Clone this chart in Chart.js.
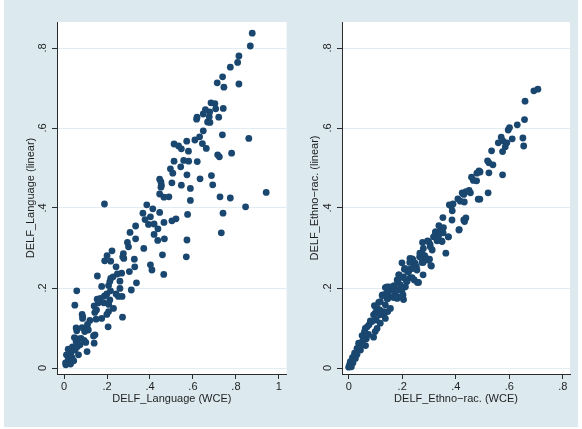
<!DOCTYPE html>
<html>
<head>
<meta charset="utf-8">
<script src="https://cdn.jsdelivr.net/npm/chart.js@4.4.1/dist/chart.umd.min.js"></script>
<style>
  html, body { margin: 0; padding: 0; background: #fff; }
  #wrap { position: relative; width: 582px; height: 429px; overflow: hidden; }
  #bg { position: absolute; left: 4px; top: 0; width: 574px; height: 427px; background: #dceaf0; }
  canvas { position: absolute; top: 0; }
  #langChart { left: 0; }
  #ethChart { left: 290px; }
</style>
</head>
<body>
<div id="wrap">
  <div id="bg"></div>
  <canvas id="langChart" width="290" height="429"></canvas>
  <canvas id="ethChart" width="292" height="429"></canvas>
</div>
<script>
// ----- data -----
const yTicks = [0, 0.2, 0.4, 0.6, 0.8];
const langTicksX = [0, 0.2, 0.4, 0.6, 0.8, 1];
const ethTicksX = [0, 0.2, 0.4, 0.6, 0.8];

const langTitleX = "DELF_Language (WCE)";
const langTitleY = "DELF_Language (linear)";
const ethTitleX = "DELF_Ethno\u2212rac. (WCE)";
const ethTitleY = "DELF_Ethno\u2212rac. (linear)";

// [WCE, linear]
const langPoints = [
  [0.876,0.837],[0.867,0.805],[0.814,0.78],[0.808,0.764],[0.774,0.752],[0.738,0.728],[0.713,0.713],[0.744,0.702],
  [0.814,0.71],[0.684,0.663],[0.702,0.661],[0.706,0.648],[0.741,0.649],[0.658,0.646],[0.678,0.64],[0.648,0.635],
  [0.676,0.628],[0.72,0.627],[0.619,0.627],[0.617,0.622],[0.668,0.615],[0.679,0.614],[0.648,0.593],[0.631,0.578],
  [0.609,0.57],[0.737,0.583],[0.86,0.574],[0.644,0.561],[0.662,0.549],[0.512,0.56],[0.533,0.555],[0.546,0.548],
  [0.571,0.567],[0.579,0.542],[0.715,0.533],[0.723,0.528],[0.78,0.537],[0.512,0.517],[0.557,0.519],[0.58,0.517],
  [0.62,0.516],[0.543,0.503],[0.495,0.498],[0.506,0.487],[0.572,0.483],[0.686,0.481],[0.445,0.472],[0.451,0.465],
  [0.502,0.463],[0.633,0.473],[0.453,0.457],[0.451,0.452],[0.546,0.457],[0.692,0.458],[0.588,0.449],[0.445,0.435],
  [0.465,0.427],[0.488,0.428],[0.726,0.428],[0.774,0.425],[0.941,0.439],[0.588,0.419],[0.188,0.41],[0.385,0.408],
  [0.413,0.398],[0.845,0.403],[0.367,0.387],[0.445,0.389],[0.575,0.384],[0.74,0.387],[0.402,0.378],[0.377,0.371],
  [0.393,0.359],[0.419,0.36],[0.465,0.364],[0.502,0.368],[0.521,0.373],[0.333,0.355],[0.437,0.348],[0.307,0.339],
  [0.732,0.338],[0.419,0.334],[0.333,0.323],[0.436,0.319],[0.467,0.323],[0.572,0.32],[0.295,0.314],[0.3,0.303],
  [0.371,0.299],[0.223,0.293],[0.276,0.286],[0.458,0.283],[0.273,0.278],[0.2,0.281],[0.569,0.278],[0.278,0.274],
  [0.189,0.268],[0.217,0.267],[0.327,0.272],[0.402,0.258],[0.242,0.253],[0.329,0.253],[0.409,0.245],[0.304,0.241],
  [0.268,0.237],[0.248,0.235],[0.228,0.228],[0.217,0.224],[0.464,0.234],[0.155,0.23],[0.26,0.217],[0.213,0.216],
  [0.337,0.213],[0.175,0.204],[0.207,0.206],[0.059,0.193],[0.26,0.199],[0.313,0.195],[0.216,0.193],[0.199,0.185],
  [0.242,0.185],[0.253,0.179],[0.27,0.179],[0.188,0.18],[0.169,0.174],[0.154,0.172],[0.213,0.17],[0.185,0.163],
  [0.16,0.163],[0.05,0.157],[0.14,0.155],[0.208,0.159],[0.23,0.149],[0.151,0.145],[0.207,0.141],[0.084,0.134],
  [0.143,0.139],[0.199,0.134],[0.086,0.124],[0.272,0.127],[0.149,0.122],[0.175,0.124],[0.12,0.119],[0.109,0.109],
  [0.056,0.1],[0.084,0.101],[0.205,0.103],[0.107,0.097],[0.059,0.093],[0.096,0.091],[0.113,0.095],[0.144,0.083],
  [0.137,0.08],[0.048,0.076],[0.065,0.073],[0.079,0.074],[0.093,0.069],[0.056,0.066],[0.101,0.064],[0.14,0.062],
  [0.074,0.058],[0.039,0.053],[0.061,0.053],[0.051,0.045],[0.019,0.047],[0.107,0.041],[0.067,0.033],[0.031,0.037],
  [0.011,0.033],[0.037,0.026],[0.019,0.02],[0.03,0.013],[0.007,0.013],[0.008,0.008],[0.03,0.01],[0.045,0.018],
  [0.087,0.128]
];

const ethPoints = [
  [0.707,0.697],[0.692,0.693],[0.659,0.667],[0.657,0.621],[0.63,0.608],[0.601,0.601],[0.596,0.595],[0.651,0.575],
  [0.611,0.573],[0.654,0.555],[0.57,0.577],[0.576,0.568],[0.559,0.563],[0.591,0.563],[0.585,0.553],[0.575,0.541],
  [0.534,0.543],[0.519,0.518],[0.524,0.513],[0.539,0.508],[0.524,0.488],[0.487,0.493],[0.491,0.49],[0.479,0.487],
  [0.575,0.483],[0.459,0.477],[0.466,0.469],[0.478,0.468],[0.45,0.444],[0.438,0.441],[0.455,0.438],[0.424,0.438],
  [0.43,0.434],[0.521,0.438],[0.408,0.423],[0.417,0.417],[0.432,0.415],[0.484,0.422],[0.49,0.422],[0.376,0.408],
  [0.39,0.41],[0.387,0.393],[0.352,0.376],[0.386,0.37],[0.43,0.37],[0.438,0.375],[0.337,0.356],[0.349,0.349],
  [0.325,0.341],[0.353,0.338],[0.372,0.328],[0.413,0.346],[0.33,0.318],[0.349,0.316],[0.295,0.318],[0.276,0.314],
  [0.304,0.309],[0.279,0.299],[0.312,0.295],[0.363,0.287],[0.266,0.287],[0.284,0.281],[0.27,0.276],[0.296,0.27],
  [0.229,0.274],[0.24,0.271],[0.199,0.263],[0.278,0.264],[0.244,0.258],[0.253,0.253],[0.21,0.249],[0.309,0.255],
  [0.23,0.247],[0.22,0.241],[0.278,0.233],[0.188,0.233],[0.203,0.226],[0.23,0.226],[0.245,0.22],[0.257,0.214],
  [0.215,0.218],[0.184,0.216],[0.169,0.206],[0.152,0.203],[0.137,0.201],[0.197,0.201],[0.178,0.193],[0.143,0.187],
  [0.126,0.183],[0.203,0.183],[0.178,0.176],[0.168,0.176],[0.205,0.171],[0.137,0.158],[0.156,0.149],[0.096,0.156],
  [0.112,0.164],[0.116,0.145],[0.146,0.141],[0.099,0.137],[0.131,0.133],[0.103,0.12],[0.118,0.112],[0.081,0.118],
  [0.076,0.108],[0.106,0.099],[0.062,0.099],[0.099,0.091],[0.059,0.091],[0.074,0.084],[0.093,0.077],[0.05,0.081],
  [0.066,0.073],[0.037,0.062],[0.051,0.066],[0.063,0.056],[0.031,0.049],[0.044,0.045],[0.022,0.037],[0.031,0.034],
  [0.014,0.026],[0.025,0.024],[0.006,0.016],[0.016,0.013],[0.003,0.008],[0.01,0.003],[0,0.002],
  [0.383,0.405],[0.433,0.366],[0.412,0.345],[0.354,0.351],[0.342,0.341],[0.324,0.339],[0.336,0.331],[0.317,0.328],
  [0.373,0.328],[0.347,0.318],[0.332,0.321],[0.299,0.316],[0.305,0.303],[0.274,0.287],[0.265,0.278],[0.29,0.274],
  [0.302,0.272],[0.237,0.273],[0.228,0.264],[0.248,0.262],[0.274,0.264],[0.307,0.256],[0.243,0.249],[0.208,0.247],
  [0.224,0.241],[0.255,0.245],[0.187,0.233],[0.205,0.228],[0.237,0.226],[0.181,0.22],[0.218,0.216],[0.261,0.214],
  [0.193,0.208],[0.168,0.203],[0.156,0.195],[0.212,0.203],[0.199,0.193],[0.143,0.203],[0.137,0.184],[0.125,0.181],
  [0.174,0.184],[0.193,0.178],[0.181,0.174],[0.156,0.178],[0.146,0.173],[0.019,0.028],[0.044,0.058],[0.056,0.074],
  [0.069,0.103],[0.087,0.116],[0.093,0.133],[0.106,0.149],[0.118,0.166],[0.116,0.133],[0.131,0.141],[0.137,0.124],
  [0.143,0.174],[0.1,0.153],[0.149,0.191],[0.174,0.195],[0.199,0.178],[0.193,0.199]
];

// ----- styling -----
const MARKER = "#1a476f";
const AXIS = "#2b2b2b";
const GRID = "#e1edf2";
const TEXT = "#1e1e1e";
const FONT = '"Liberation Sans", Arial, sans-serif';

Chart.defaults.font.family = FONT;
Chart.defaults.font.size = 11;
Chart.defaults.color = TEXT;

// Stata-style labels: ".2" not "0.2"
const fmt = (v) => {
  const s = String(+Number(v).toFixed(2));
  return s.startsWith("0.") ? s.slice(1) : s;
};

// white plot region
const plotFill = {
  id: "plotFill",
  beforeDraw(chart) {
    const { ctx, chartArea: a } = chart;
    ctx.save(); ctx.fillStyle = "#fff";
    ctx.fillRect(a.left, a.top, a.right - a.left, a.bottom - a.top);
    ctx.restore();
  }
};

// y tick labels written vertically, as in the original
const vertYTicks = {
  id: "vertYTicks",
  afterDraw(chart) {
    const s = chart.scales.y, ctx = chart.ctx;
    ctx.save();
    ctx.font = `11px ${FONT}`; ctx.fillStyle = TEXT;
    ctx.textAlign = "center"; ctx.textBaseline = "middle";
    s.ticks.forEach((t) => {
      ctx.save();
      ctx.translate(s.right - 14, s.getPixelForValue(t.value));
      ctx.rotate(-Math.PI / 2);
      ctx.fillText(fmt(t.value), 0, 0);
      ctx.restore();
    });
    ctx.restore();
  }
};

function makeScatter(canvasId, points, { xTicks, xMin, xMax, xTitle, yTitle, yWidth, yTitlePad, padRight }) {
  const ctx = document.getElementById(canvasId).getContext("2d");
  return new Chart(ctx, {
    type: "scatter",
    data: { datasets: [{
      data: points.map(([x, y]) => ({ x, y })),
      backgroundColor: MARKER, borderColor: MARKER,
      pointRadius: 3.4, pointBorderWidth: 0, pointHoverRadius: 3.4
    }]},
    options: {
      responsive: false, animation: false, devicePixelRatio: 1,
      layout: { padding: { left: 0, right: padRight, top: 22, bottom: 15 } },
      plugins: { legend: { display: false }, tooltip: { enabled: false } },
      scales: {
        x: {
          type: "linear", min: xMin, max: xMax,
          afterBuildTicks: (s) => { s.ticks = xTicks.map((v) => ({ value: v })); },
          afterFit: (s) => { s.height = 40; },
          ticks: { callback: (v) => fmt(v), padding: 1, maxRotation: 0, color: TEXT },
          grid: { drawOnChartArea: false, tickColor: AXIS, tickLength: 5 },
          border: { color: AXIS, width: 1 },
          title: { display: true, text: xTitle, color: TEXT, padding: { top: 0, bottom: 8 } }
        },
        y: {
          type: "linear", min: -0.015, max: 0.865,
          afterBuildTicks: (s) => { s.ticks = yTicks.map((v) => ({ value: v })); },
          afterFit: (s) => { s.width = yWidth; },
          ticks: { color: "rgba(0,0,0,0)", callback: (v) => fmt(v) },
          grid: { color: GRID, lineWidth: 1, tickColor: AXIS, tickLength: 5 },
          border: { color: AXIS, width: 1 },
          title: { display: true, text: yTitle, color: TEXT, padding: { top: yTitlePad, bottom: 0 } }
        }
      }
    },
    plugins: [plotFill, vertYTicks]
  });
}

makeScatter("langChart", langPoints, {
  xTicks: langTicksX, xMin: -0.033, xMax: 1.036,
  xTitle: langTitleX, yTitle: langTitleY, yWidth: 57, yTitlePad: 24, padRight: 3
});
makeScatter("ethChart", ethPoints, {
  xTicks: ethTicksX, xMin: -0.025, xMax: 0.827,
  xTitle: ethTitleX, yTitle: ethTitleY, yWidth: 52, yTitlePad: 18, padRight: 12
});
</script>
</body>
</html>
